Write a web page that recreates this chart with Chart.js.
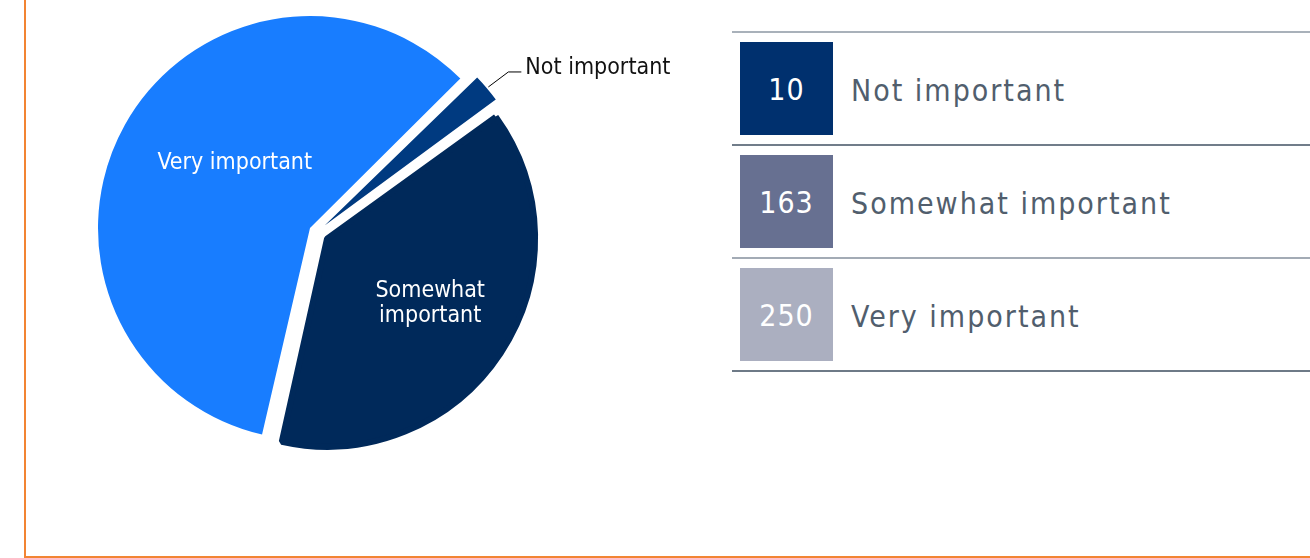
<!DOCTYPE html>
<html>
<head>
<meta charset="utf-8">
<script src="https://cdn.jsdelivr.net/npm/chart.js@4.4.1/dist/chart.umd.min.js"></script>
<style>
body{margin:0;background:#fff;width:1310px;height:558px;overflow:hidden;position:relative;font-family:"DejaVu Sans Condensed","DejaVu Sans",sans-serif}
#frame{position:absolute;left:24px;top:-10px;width:1400px;height:566px;border-left:2px solid #f28433;border-bottom:2px solid #f28433}
#pie{position:absolute;left:0;top:0}
#legend{position:absolute;left:732px;top:31px;width:578px}
.row{position:relative;height:111px;border-top:2px solid #a9b1ba}
.box{position:absolute;left:8px;top:9px;width:93px;height:93px;color:#fff;font-size:30px;line-height:96px;text-align:center;letter-spacing:1px}
.name{position:absolute;left:119px;top:2px;line-height:111px;font-size:30px;letter-spacing:2px;color:#515e6d;white-space:nowrap}
</style>
</head>
<body>
<div id="frame"></div>
<canvas id="pie" width="700" height="520"></canvas>
<div id="legend"></div>
<script>

const labels = ["Not important", "Somewhat important", "Very important"]
const counts = [10, 163, 250]

const sliceColors = ["#003a80", "#00295a", "#187dff"]
const boxColors = ["#00306e", "#677091", "#abafc0"]
const lineColors = ["#a9b1ba", "#717d8a", "#a3abb5", "#6e7a87"]

// exploded slices, the border only fattens the middle one a little
const sliceOffsets = [40, 48, 32]
const sliceBorders = [0, 6, 0]

// where each slice's name goes
const labelSpots = [
{outside: true},
{turn: -2, frac: 0.65, wrap: true, drop: 3},
{turn: 12, frac: 0.535, drop: 3}
]

const pieLabels = {
id: "pieLabels",
afterDatasetsDraw(chart){

const ctx = chart.ctx
const arcs = chart.getDatasetMeta(0).data

ctx.save()
ctx.font = '23px "DejaVu Sans Condensed", "DejaVu Sans"'

arcs.forEach((arc, i) => {

const p = arc.getProps(["x", "y", "startAngle", "endAngle", "outerRadius"], true)
const mid = (p.startAngle + p.endAngle) / 2
const spot = labelSpots[i]

if(spot.outside){

const push = arc.options.offset / 4
const r = p.outerRadius + push * 1.85 + 2
const x0 = p.x + Math.cos(mid) * r
const y0 = p.y + Math.sin(mid) * r

ctx.strokeStyle = "#000"
ctx.lineWidth = 1
ctx.beginPath()
ctx.moveTo(x0, y0)
ctx.lineTo(x0 + 20, y0 - 15)
ctx.lineTo(x0 + 33, y0 - 15)
ctx.stroke()

ctx.fillStyle = "#111"
ctx.textAlign = "left"
ctx.textBaseline = "alphabetic"
ctx.fillText(labels[i], x0 + 37, y0 - 13)
return
}

const a = mid + spot.turn * Math.PI / 180
const cx = p.x + Math.cos(a) * p.outerRadius * spot.frac
const cy = p.y + Math.sin(a) * p.outerRadius * spot.frac + spot.drop
const lines = spot.wrap ? labels[i].split(" ") : [labels[i]]

ctx.fillStyle = "#fff"
ctx.textAlign = "center"
ctx.textBaseline = "middle"
lines.forEach((t, k) => {
ctx.fillText(t, cx, cy + (k - (lines.length - 1) / 2) * 25)
})

})

ctx.restore()
}
}

new Chart(document.getElementById("pie"), {
type: "pie",
data: {
labels: labels,
datasets: [{
data: counts,
backgroundColor: sliceColors,
borderColor: sliceColors,
borderWidth: sliceBorders,
offset: sliceOffsets,
radius: 204
}]
},
options: {
responsive: false,
animation: false,
events: [],
rotation: 45.5,
layout: {padding: {left: 0, right: 66, top: 0, bottom: 56}},
plugins: {
legend: {display: false},
tooltip: {enabled: false}
}
},
plugins: [pieLabels]
})

const legend = document.getElementById("legend")

labels.forEach((name, i) => {

let row = document.createElement("div")
row.className = "row"
row.style.borderTopColor = lineColors[i]
if(i == labels.length - 1)
row.style.borderBottom = "2px solid " + lineColors[i + 1]

row.innerHTML = `<div class="box" style="background:${boxColors[i]}">${counts[i]}</div><div class="name">${name}</div>`

legend.appendChild(row)

})

</script>
</body>
</html>
